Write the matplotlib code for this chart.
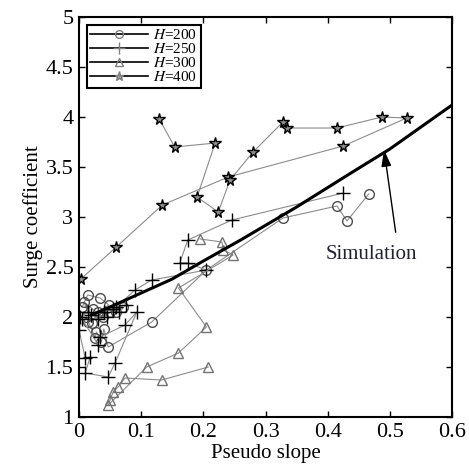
import matplotlib
matplotlib.use("Agg")
import matplotlib.pyplot as plt
from matplotlib.lines import Line2D

plt.rcParams["font.family"] = "serif"
plt.rcParams["font.serif"] = ["Liberation Serif", "DejaVu Serif"]
plt.rcParams["mathtext.fontset"] = "stix"

# H = 200 (circles)
h200_x = [0.005, 0.014, 0.034, 0.048, 0.030, 0.021, 0.008, 0.022, 0.038, 0.050,
          0.060, 0.070, 0.015, 0.012, 0.026, 0.028, 0.036, 0.040, 0.047,
          0.117, 0.205, 0.328, 0.415, 0.431, 0.466]
h200_y = [2.10, 2.22, 2.19, 2.12, 2.05, 1.94, 2.15, 2.08, 2.00, 2.05,
          2.05, 2.10, 1.95, 2.00, 1.79, 1.85, 1.75, 1.88, 1.70,
          1.95, 2.47, 2.99, 3.11, 2.96, 3.23]

# H = 250 (plus)
h250_x = [0.000, 0.010, 0.018, 0.010, 0.047, 0.058, 0.093, 0.074, 0.034, 0.031,
          0.005, 0.002, 0.015, 0.030, 0.045, 0.020, 0.040, 0.055, 0.065, 0.075,
          0.060, 0.090, 0.117, 0.205, 0.175, 0.162, 0.175, 0.246, 0.425]
h250_y = [1.87, 1.59, 1.60, 1.44, 1.40, 1.54, 2.05, 1.92, 1.80, 1.72,
          1.98, 2.00, 2.05, 1.98, 2.00, 2.02, 2.05, 2.08, 2.05, 2.12,
          2.10, 2.27, 2.37, 2.47, 2.54, 2.54, 2.77, 2.97, 3.24]

# H = 300 (triangles)
h300_x = [0.208, 0.133, 0.074, 0.063, 0.055, 0.050, 0.047, 0.109, 0.160, 0.205,
          0.160, 0.248, 0.232, 0.230, 0.195]
h300_y = [1.50, 1.37, 1.39, 1.30, 1.25, 1.17, 1.12, 1.50, 1.64, 1.90,
          2.29, 2.62, 2.67, 2.75, 2.78]

# H = 400 (stars)
h400_x = [0.003, 0.060, 0.134, 0.240, 0.425, 0.527, 0.487, 0.415, 0.334, 0.328,
          0.280, 0.243, 0.224, 0.190, 0.219, 0.154, 0.129]
h400_y = [2.38, 2.70, 3.12, 3.40, 3.71, 3.99, 4.00, 3.89, 3.89, 3.95,
          3.65, 3.37, 3.05, 3.20, 3.74, 3.70, 3.98]

# simulation curve
sim_x = [0.02, 0.05, 0.10, 0.15, 0.20, 0.26, 0.35, 0.44, 0.50, 0.60]
sim_y = [2.02, 2.10, 2.24, 2.38, 2.56, 2.77, 3.10, 3.45, 3.68, 4.12]

series = [
    (h200_x, h200_y, "o", "0.3", "none", 7, "$H$=200"),
    (h250_x, h250_y, "+", "black", "none", 10, "$H$=250"),
    (h300_x, h300_y, "^", "0.45", "none", 7, "$H$=300"),
    (h400_x, h400_y, "*", "black", "0.55", 8.5, "$H$=400"),
]

fig = plt.figure(figsize=(4.69, 4.73), dpi=100)
ax = fig.add_axes([0.1684, 0.1184, 0.7954, 0.8456])

handles = []
for xs, ys, m, ec, fc, ms, lab in series:
    ax.plot(xs, ys, color="0.55", linewidth=0.8, marker=m, markersize=ms,
            markeredgecolor=ec, markerfacecolor=fc, markeredgewidth=1.0)
    handles.append(Line2D([], [], color="black", linewidth=1.2, marker=m,
                          markersize=ms * 0.8, markeredgecolor="0.5",
                          markerfacecolor="none" if fc == "none" else "0.6",
                          label=lab))

ax.plot(sim_x, sim_y, color="black", linewidth=2.2)

ax.annotate("", xy=(0.49, 3.70), xytext=(0.51, 2.82),
            arrowprops=dict(arrowstyle="-|>,head_length=1.0,head_width=0.3",
                            color="black", linewidth=1.0))
ax.text(0.47, 2.63, "Simulation", ha="center", va="center", fontsize=15,
        color="#222233")

ax.set_xlim(0, 0.6)
ax.set_ylim(1, 5)
ax.set_xticks([0, 0.1, 0.2, 0.3, 0.4, 0.5, 0.6])
ax.set_xticklabels(["0", "0.1", "0.2", "0.3", "0.4", "0.5", "0.6"])
ax.set_yticks([1, 1.5, 2, 2.5, 3, 3.5, 4, 4.5, 5])
ax.set_yticklabels(["1", "1.5", "2", "2.5", "3", "3.5", "4", "4.5", "5"])
ax.tick_params(direction="in", top=True, right=True, length=4, width=1,
               labelsize=16, pad=4)
for s in ax.spines.values():
    s.set_linewidth(1.5)

ax.set_xlabel("Pseudo slope", fontsize=15, labelpad=2)
ax.set_ylabel("Surge coefficient", fontsize=15, labelpad=2)

leg = ax.legend(handles=handles, loc="upper left", fontsize=11,
                labelspacing=0.0, handlelength=3.8, handletextpad=0.3,
                borderpad=0.25, fancybox=False, framealpha=1,
                borderaxespad=0.5)
leg.get_frame().set_edgecolor("black")
leg.get_frame().set_linewidth(1.5)

fig.savefig("out.png", dpi=100)
